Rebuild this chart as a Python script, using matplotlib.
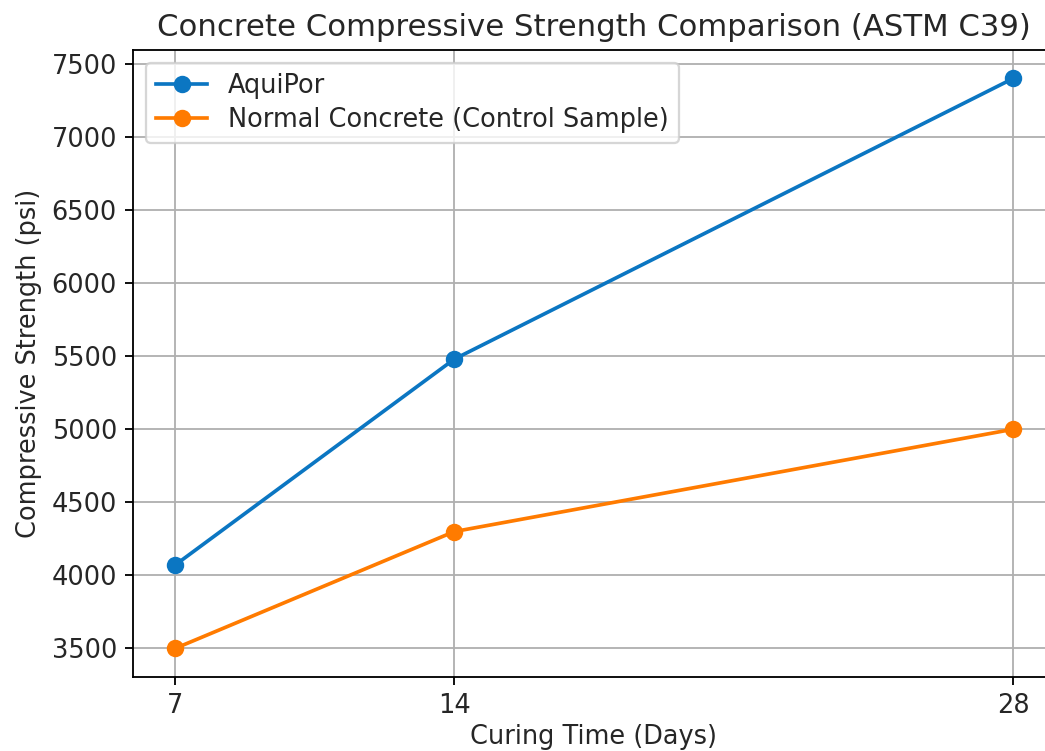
import matplotlib
matplotlib.use("Agg")
import matplotlib.pyplot as plt

days = [7, 14, 28]
aquipor = [4070, 5480, 7400]
normal = [3500, 4300, 5000]

DPI = 165
plt.rcParams['text.color'] = '#262626'
plt.rcParams['axes.labelcolor'] = '#262626'
plt.rcParams['xtick.labelcolor'] = '#262626'
plt.rcParams['ytick.labelcolor'] = '#262626'
fs = 11.2
fig = plt.figure(figsize=(1045 / DPI, 751 / DPI), dpi=DPI)
ax = fig.add_axes([133 / 1045, 1 - 677 / 751, (1055 - 133) / 1045, (677 - 50) / 751])

ax.plot(days, aquipor, marker='o', color='#0b76c2', lw=1.6, ms=6.6, label='AquiPor')
ax.plot(days, normal, marker='o', color='#ff7b00', lw=1.6, ms=6.6, label='Normal Concrete (Control Sample)')
ax.set_xticks(days)
ax.tick_params(labelsize=fs)
ax.set_title('Concrete Compressive Strength Comparison (ASTM C39)', fontsize=13.4)
ax.set_xlabel('Curing Time (Days)', fontsize=fs, labelpad=2)
ax.set_ylabel('Compressive Strength (psi)', fontsize=fs)
ax.grid(True)
ax.legend(loc='upper left', fontsize=fs, labelspacing=0.3)

fig.savefig('out.png', dpi=DPI)
